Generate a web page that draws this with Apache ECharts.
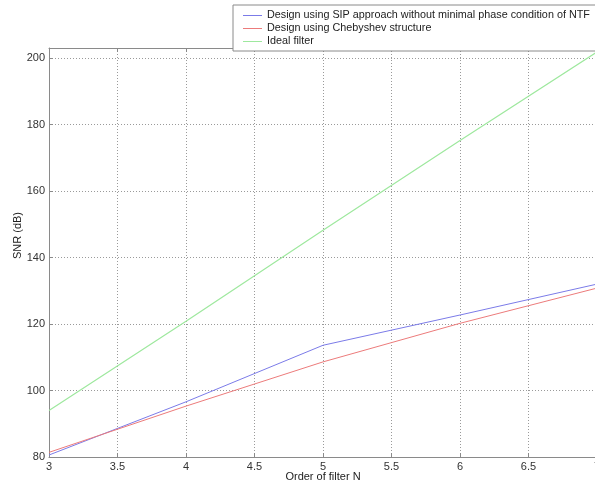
<!DOCTYPE html>
<html lang="en">
<head>
  <meta charset="UTF-8">
  <title>SNR vs order of filter</title>
  <script src="https://cdn.jsdelivr.net/npm/echarts@6/dist/echarts.min.js"></script>
</head>
<body>
<div id="chart"></div>
<style>
  html, body { margin: 0; width: 100%; height: 100%; background: #fff; }
  #chart { width: 595px; height: 484px; }
</style>
<script>
  const orders = [3, 4, 5, 6, 7];
  const sipSnr = [80.6, 96.6, 113.6, 122.7, 132.0];
  const chebSnr = [81.4, 95.3, 108.6, 120.2, 130.8];
  const idealSnr = [94.0, 120.8, 148.2, 175.2, 201.8];
  const seriesNames = [
    'Design using SIP approach without minimal phase condition of NTF',
    'Design using Chebyshev structure',
    'Ideal filter'
  ];

  const font = 'Liberation Sans';
  const chart = echarts.init(document.getElementById('chart'));

  function pairs(ys) {
    return orders.map((x, i) => [x, ys[i]]);
  }

  const gridLine = { show: true, lineStyle: { color: '#9a9a9a', type: [1, 2], width: 1 } };
  const boxLine = { show: true, onZero: false, lineStyle: { color: '#8a8a8a', width: 1 } };

  chart.setOption({
    animation: false,
    grid: { left: 49, right: -2, top: 48, bottom: 27, outerBoundsMode: 'none', containLabel: false },
    legend: {
      orient: 'vertical',
      left: 233,
      top: 5,
      icon: 'path://M0,0L19,0L19,1L0,1Z',
      itemWidth: 19,
      itemHeight: 1,
      itemGap: 2,
      padding: [5, 6, 4, 10],
      backgroundColor: '#fff',
      borderColor: '#8a8a8a',
      borderWidth: 1,
      textStyle: { fontFamily: font, fontSize: 10.8, color: '#222' },
      data: seriesNames,
      z: 10
    },
    xAxis: [{
      type: 'value',
      min: 3, max: 7, interval: 0.5,
      name: 'Order of filter N',
      nameLocation: 'middle',
      nameGap: 14,
      nameMoveOverlap: false,
      nameTextStyle: { fontFamily: font, fontSize: 11, color: '#222' },
      axisLine: boxLine,
      axisTick: { show: true, inside: true, length: 4, lineStyle: { color: '#8a8a8a' } },
      axisLabel: { fontFamily: font, fontSize: 11, color: '#333', margin: 4, showMaxLabel: true, hideOverlap: false },
      splitLine: gridLine
    }, {
      type: 'value',
      position: 'top',
      min: 3, max: 7, interval: 0.5,
      axisLine: boxLine,
      axisTick: { show: true, inside: true, length: 4, lineStyle: { color: '#8a8a8a' } },
      axisLabel: { show: false },
      splitLine: { show: false }
    }],
    yAxis: {
      type: 'value',
      min: 80, max: 203, interval: 20,
      name: 'SNR (dB)',
      nameLocation: 'middle',
      nameGap: 26,
      nameMoveOverlap: false,
      nameTextStyle: { fontFamily: font, fontSize: 11, color: '#222', padding: [0, 0, 0, 34] },
      axisLine: boxLine,
      axisTick: { show: true, inside: true, length: 4, lineStyle: { color: '#8a8a8a' } },
      axisLabel: { fontFamily: font, fontSize: 11, color: '#333', margin: 4 },
      splitLine: gridLine
    },
    series: [
      { name: seriesNames[0], type: 'line', data: pairs(sipSnr), symbol: 'none',
        lineStyle: { color: '#7b7be8', width: 1 }, itemStyle: { color: '#7b7be8' } },
      { name: seriesNames[1], type: 'line', data: pairs(chebSnr), symbol: 'none',
        lineStyle: { color: '#ec7b7b', width: 1 }, itemStyle: { color: '#ec7b7b' } },
      { name: seriesNames[2], type: 'line', data: pairs(idealSnr), symbol: 'none',
        lineStyle: { color: '#9ee89e', width: 1.2 }, itemStyle: { color: '#9ee89e' } }
    ]
  });
</script>
</body>
</html>
